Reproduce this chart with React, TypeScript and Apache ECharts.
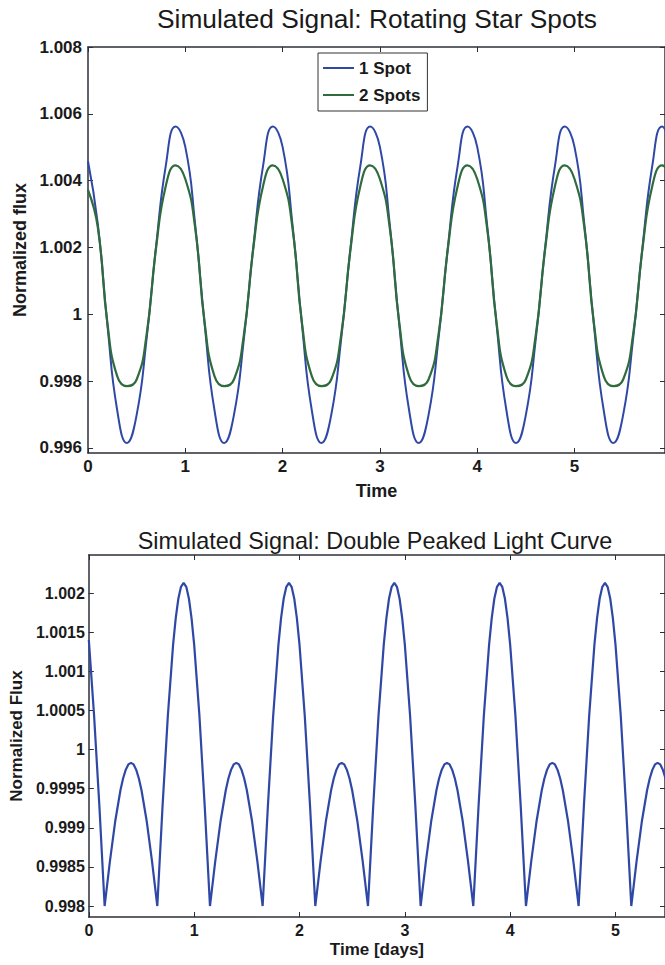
import React, { useEffect, useRef } from "react";
import * as echarts from "echarts";

// ---- Top chart: Rotating Star Spots ----
const timeTop = [
  0, 0.1, 0.2, 0.3, 0.4, 0.5, 0.6, 0.7, 0.8, 0.9,
  1, 1.1, 1.2, 1.3, 1.4, 1.5, 1.6, 1.7, 1.8, 1.9,
  2, 2.1, 2.2, 2.3, 2.4, 2.5, 2.6, 2.7, 2.8, 2.9,
  3, 3.1, 3.2, 3.3, 3.4, 3.5, 3.6, 3.7, 3.8, 3.9,
  4, 4.1, 4.2, 4.3, 4.4, 4.5, 4.6, 4.7, 4.8, 4.9,
  5, 5.1, 5.2, 5.3, 5.4, 5.5, 5.6, 5.7, 5.8, 5.9,
  6,
];
const flux1Spot = [
  1.00458, 1.00272, 0.99967, 0.99713, 0.99615, 0.99699, 0.99921, 1.00204, 1.00446, 1.00562,
  1.00501, 1.00272, 0.99967, 0.99713, 0.99615, 0.99699, 0.99921, 1.00204, 1.00446, 1.00562,
  1.00501, 1.00272, 0.99967, 0.99713, 0.99615, 0.99699, 0.99921, 1.00204, 1.00446, 1.00562,
  1.00501, 1.00272, 0.99967, 0.99713, 0.99615, 0.99699, 0.99921, 1.00204, 1.00446, 1.00562,
  1.00501, 1.00272, 0.99967, 0.99713, 0.99615, 0.99699, 0.99921, 1.00204, 1.00446, 1.00562,
  1.00501, 1.00272, 0.99967, 0.99713, 0.99615, 0.99699, 0.99921, 1.00204, 1.00446, 1.00562,
  1.00501,
];
const flux2Spots = [
  1.00372, 1.00262, 0.99972, 0.99815, 0.99785, 0.99805, 0.99935, 1.002, 1.00385, 1.00446,
  1.00405, 1.00262, 0.99972, 0.99815, 0.99785, 0.99805, 0.99935, 1.002, 1.00385, 1.00446,
  1.00405, 1.00262, 0.99972, 0.99815, 0.99785, 0.99805, 0.99935, 1.002, 1.00385, 1.00446,
  1.00405, 1.00262, 0.99972, 0.99815, 0.99785, 0.99805, 0.99935, 1.002, 1.00385, 1.00446,
  1.00405, 1.00262, 0.99972, 0.99815, 0.99785, 0.99805, 0.99935, 1.002, 1.00385, 1.00446,
  1.00405, 1.00262, 0.99972, 0.99815, 0.99785, 0.99805, 0.99935, 1.002, 1.00385, 1.00446,
  1.00405,
];
const yTicksTop = [0.996, 0.998, 1, 1.002, 1.004, 1.006, 1.008];

// ---- Bottom chart: Double Peaked Light Curve ----
const timeBottom = [
  0, 0.05, 0.1, 0.15, 0.2, 0.25, 0.3, 0.325, 0.35, 0.375, 0.4, 0.425, 0.45, 0.475, 0.5, 0.55, 0.6, 0.65, 0.7, 0.75, 0.8, 0.825, 0.85, 0.875, 0.9, 0.925, 0.95, 0.975,
  1, 1.05, 1.1, 1.15, 1.2, 1.25, 1.3, 1.325, 1.35, 1.375, 1.4, 1.425, 1.45, 1.475, 1.5, 1.55, 1.6, 1.65, 1.7, 1.75, 1.8, 1.825, 1.85, 1.875, 1.9, 1.925, 1.95, 1.975,
  2, 2.05, 2.1, 2.15, 2.2, 2.25, 2.3, 2.325, 2.35, 2.375, 2.4, 2.425, 2.45, 2.475, 2.5, 2.55, 2.6, 2.65, 2.7, 2.75, 2.8, 2.825, 2.85, 2.875, 2.9, 2.925, 2.95, 2.975,
  3, 3.05, 3.1, 3.15, 3.2, 3.25, 3.3, 3.325, 3.35, 3.375, 3.4, 3.425, 3.45, 3.475, 3.5, 3.55, 3.6, 3.65, 3.7, 3.75, 3.8, 3.825, 3.85, 3.875, 3.9, 3.925, 3.95, 3.975,
  4, 4.05, 4.1, 4.15, 4.2, 4.25, 4.3, 4.325, 4.35, 4.375, 4.4, 4.425, 4.45, 4.475, 4.5, 4.55, 4.6, 4.65, 4.7, 4.75, 4.8, 4.825, 4.85, 4.875, 4.9, 4.925, 4.95, 4.975,
  5, 5.05, 5.1, 5.15, 5.2, 5.25, 5.3, 5.325, 5.35, 5.375, 5.4, 5.425, 5.45, 5.475, 5.5,
];
const fluxDouble = [
  1.0014, 1.00043, 0.99928, 0.998, 0.99857, 0.99908, 0.99948, 0.99963, 0.99974, 0.99981, 0.99983, 0.99981, 0.99974, 0.99963, 0.99948, 0.99908, 0.99857, 0.998, 0.99928, 1.00043, 1.00134, 1.00168, 1.00193, 1.00208, 1.00213, 1.00208, 1.00193, 1.00168,
  1.00134, 1.00043, 0.99928, 0.998, 0.99857, 0.99908, 0.99948, 0.99963, 0.99974, 0.99981, 0.99983, 0.99981, 0.99974, 0.99963, 0.99948, 0.99908, 0.99857, 0.998, 0.99928, 1.00043, 1.00134, 1.00168, 1.00193, 1.00208, 1.00213, 1.00208, 1.00193, 1.00168,
  1.00134, 1.00043, 0.99928, 0.998, 0.99857, 0.99908, 0.99948, 0.99963, 0.99974, 0.99981, 0.99983, 0.99981, 0.99974, 0.99963, 0.99948, 0.99908, 0.99857, 0.998, 0.99928, 1.00043, 1.00134, 1.00168, 1.00193, 1.00208, 1.00213, 1.00208, 1.00193, 1.00168,
  1.00134, 1.00043, 0.99928, 0.998, 0.99857, 0.99908, 0.99948, 0.99963, 0.99974, 0.99981, 0.99983, 0.99981, 0.99974, 0.99963, 0.99948, 0.99908, 0.99857, 0.998, 0.99928, 1.00043, 1.00134, 1.00168, 1.00193, 1.00208, 1.00213, 1.00208, 1.00193, 1.00168,
  1.00134, 1.00043, 0.99928, 0.998, 0.99857, 0.99908, 0.99948, 0.99963, 0.99974, 0.99981, 0.99983, 0.99981, 0.99974, 0.99963, 0.99948, 0.99908, 0.99857, 0.998, 0.99928, 1.00043, 1.00134, 1.00168, 1.00193, 1.00208, 1.00213, 1.00208, 1.00193, 1.00168,
  1.00134, 1.00043, 0.99928, 0.998, 0.99857, 0.99908, 0.99948, 0.99963, 0.99974, 0.99981, 0.99983, 0.99981, 0.99974, 0.99963, 0.99948,
];
const yTicksBottom = [0.998, 0.9985, 0.999, 0.9995, 1, 1.0005, 1.001, 1.0015, 1.002];
const xTicks = [0, 1, 2, 3, 4, 5];

const FONT = '"Liberation Sans", Arial, Helvetica, sans-serif';
const AXIS = "#2c2f3a";
const TEXT = "#1a1a1a";
const BLUE = "#2f48a6";
const GREEN = "#2f6b3c";

const fmt = (v: number) => String(Number(v.toFixed(5)));

function mainX(gridIndex: number, max: number, name: string, nameGap: number, fs: number) {
  return {
    type: "value",
    gridIndex,
    min: 0,
    max,
    position: "bottom",
    name,
    nameLocation: "middle",
    nameGap,
    nameTextStyle: { fontFamily: FONT, fontSize: fs + 1, fontWeight: "bold", color: TEXT },
    axisLine: { show: true, onZero: false, lineStyle: { color: AXIS, width: 1.5 } },
    axisTick: { show: true, inside: true, length: 5, customValues: xTicks, lineStyle: { color: AXIS } },
    axisLabel: { show: true, margin: 5, customValues: xTicks, formatter: fmt, fontFamily: FONT, fontSize: fs, fontWeight: "bold", color: TEXT },
    splitLine: { show: false },
  };
}
function mirrorX(gridIndex: number, max: number) {
  return {
    type: "value",
    gridIndex,
    min: 0,
    max,
    position: "top",
    axisLine: { show: true, onZero: false, lineStyle: { color: AXIS, width: 1.5 } },
    axisTick: { show: true, inside: true, length: 5, customValues: xTicks, lineStyle: { color: AXIS } },
    axisLabel: { show: false },
    splitLine: { show: false },
  };
}
function mainY(gridIndex: number, min: number, max: number, ticks: number[], name: string, nameGap: number, fs: number, margin: number) {
  return {
    type: "value",
    gridIndex,
    min,
    max,
    position: "left",
    name,
    nameLocation: "middle",
    nameGap,
    nameTextStyle: { fontFamily: FONT, fontSize: fs + 1, fontWeight: "bold", color: TEXT },
    axisLine: { show: true, onZero: false, lineStyle: { color: AXIS, width: 1.5 } },
    axisTick: { show: true, inside: true, length: 5, customValues: ticks, lineStyle: { color: AXIS } },
    axisLabel: { show: true, margin, customValues: ticks, formatter: fmt, fontFamily: FONT, fontSize: fs, fontWeight: "bold", color: TEXT },
    splitLine: { show: false },
  };
}
function mirrorY(gridIndex: number, min: number, max: number, ticks: number[]) {
  return {
    type: "value",
    gridIndex,
    min,
    max,
    position: "right",
    axisLine: { show: true, onZero: false, lineStyle: { color: AXIS, width: 1.5 } },
    axisTick: { show: true, inside: true, length: 5, customValues: ticks, lineStyle: { color: AXIS } },
    axisLabel: { show: false },
    splitLine: { show: false },
  };
}

export default function App() {
  const ref = useRef<HTMLDivElement>(null);
  useEffect(() => {
    if (!ref.current) return;
    const chart = echarts.init(ref.current, undefined, { renderer: "svg" });
    const topYMin = 0.99585, topYMax = 1.008, topXMax = 5.93;
    const botYMin = 0.99786, botYMax = 1.002486, botXMax = 5.47;
    chart.setOption({
      animation: false,
      backgroundColor: "#ffffff",
      graphic: [
        {
          type: "text",
          x: 377,
          y: 19,
          style: {
            text: "Simulated Signal: Rotating Star Spots",
            fill: TEXT,
            fontFamily: FONT,
            fontSize: 26.3,
            align: "center",
            verticalAlign: "middle",
          },
        },
        {
          type: "text",
          x: 375,
          y: 541,
          style: {
            text: "Simulated Signal: Double Peaked Light Curve",
            fill: TEXT,
            fontFamily: FONT,
            fontSize: 23.4,
            align: "center",
            verticalAlign: "middle",
          },
        },
      ],
      legend: {
        data: [
          { name: "1 Spot", icon: "rect" },
          { name: "2 Spots", icon: "rect" },
        ],
        orient: "vertical",
        left: 318,
        top: 53,
        padding: [6, 7, 7, 5],
        itemGap: 9,
        itemWidth: 31,
        itemHeight: 2,
        borderColor: "#333",
        borderWidth: 1,
        borderRadius: 0,
        backgroundColor: "#ffffff",
        textStyle: { fontFamily: FONT, fontSize: 17, fontWeight: "bold", color: TEXT, lineHeight: 18 },
      },
      grid: [
        { left: 88, top: 47, width: 578, height: 406 },
        { left: 87, top: 555, width: 579, height: 362 },
      ],
      xAxis: [
        mainX(0, topXMax, "Time", 29, 17),
        mirrorX(0, topXMax),
        mainX(1, botXMax, "Time [days]", 24, 16),
        mirrorX(1, botXMax),
      ],
      yAxis: [
        mainY(0, topYMin, topYMax, yTicksTop, "Normalized flux", 52, 17, 6),
        mirrorY(0, topYMin, topYMax, yTicksTop),
        mainY(1, botYMin, botYMax, yTicksBottom, "Normalized Flux", 55, 16, 4),
        mirrorY(1, botYMin, botYMax, yTicksBottom),
      ],
      series: [
        {
          name: "1 Spot",
          type: "line",
          xAxisIndex: 0,
          yAxisIndex: 0,
          smooth: true,
          symbol: "none",
          lineStyle: { color: BLUE, width: 2 },
          itemStyle: { color: BLUE },
          data: timeTop.map((t, i) => [t, flux1Spot[i]]),
        },
        {
          name: "2 Spots",
          type: "line",
          xAxisIndex: 0,
          yAxisIndex: 0,
          smooth: true,
          symbol: "none",
          lineStyle: { color: GREEN, width: 2.2 },
          itemStyle: { color: GREEN },
          data: timeTop.map((t, i) => [t, flux2Spots[i]]),
        },
        {
          name: "Double Peaked",
          type: "line",
          xAxisIndex: 2,
          yAxisIndex: 2,
          symbol: "none",
          lineStyle: { color: BLUE, width: 2.2 },
          itemStyle: { color: BLUE },
          data: timeBottom.map((t, i) => [t, fluxDouble[i]]),
        },
      ],
    });
    return () => chart.dispose();
  }, []);
  return (
    <div style={{ position: "absolute", left: 0, top: 0, width: 665, height: 965, overflow: "hidden", background: "#fff" }}>
      <div ref={ref} style={{ width: 665, height: 965 }} />
    </div>
  );
}
